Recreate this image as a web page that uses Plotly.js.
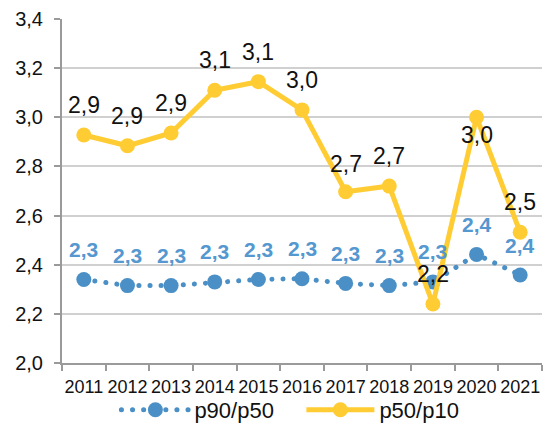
<!DOCTYPE html>
<html>
<head>
<meta charset="utf-8">
<script src="https://cdn.plot.ly/plotly-3.0.1.min.js"></script>
<style>html,body{margin:0;padding:0;background:#fff;}#chart{width:545px;height:427px;}</style>
</head>
<body>
<div id="chart"></div>
<div id="err" style="position:absolute;left:0;top:0;font:10px sans-serif;color:red"></div>
<script>
const years = ['2011','2012','2013','2014','2015','2016','2017','2018','2019','2020','2021'];
const p90p50 = [2.34, 2.315, 2.315, 2.33, 2.34, 2.343, 2.324, 2.315, 2.33, 2.442, 2.358];
const p50p10 = [2.928, 2.884, 2.936, 3.11, 3.145, 3.03, 2.697, 2.72, 2.24, 3.0, 2.532];
const seriesNames = ['p90/p50', 'p50/p10'];
// label offset (px) for p50/p10 labels; negative = below
const orangeShift = [30, 30, 30, 30, 30, 30, 28, 30, 30, -18, 30];

const blue = '#4a90c6';
const blueText = '#5597cf';
const gold = '#ffcc33';

function fmt(v){ return v.toFixed(1).replace('.', ','); }

try {
const traces = [
  {
    x: years, y: p90p50, name: seriesNames[0], type: 'scatter', mode: 'lines+markers',
    line: {color: blue, width: 5, dash: '5px,6px'},
    marker: {color: blue, size: 15}
  },
  {
    x: years, y: p50p10, name: seriesNames[1], type: 'scatter', mode: 'lines+markers',
    line: {color: gold, width: 5},
    marker: {color: gold, size: 15}
  }
];

const annotations = [];
years.forEach((yr, i) => {
  annotations.push({xref: 'x', yref: 'y', x: i, y: p90p50[i], text: '<b>' + fmt(p90p50[i]) + '</b>', showarrow: false,
    yshift: 30, font: {size: 21, color: blueText}});
  annotations.push({xref: 'x', yref: 'y', x: i, y: p50p10[i], text: fmt(p50p10[i]), showarrow: false,
    yshift: orangeShift[i], font: {size: 23, color: '#111'}});
});

const layout = {
  width: 545, height: 427,
  margin: {l: 62, r: 3, t: 19, b: 64},
  paper_bgcolor: '#fff', plot_bgcolor: '#fff',
  separators: ', ',
  font: {family: 'Liberation Sans, Arial, sans-serif', color: '#111'},
  showlegend: true,
  legend: {orientation: 'h', xref: 'container', x: 0.553, xanchor: 'center', yref: 'container', y: 0.04, yanchor: 'middle',
    bgcolor: 'rgba(0,0,0,0)', entrywidth: 102, entrywidthmode: 'pixels',
    font: {size: 22, color: '#111'}, itemwidth: 68, traceorder: 'normal'},
  xaxis: {
    type: 'category', range: [-0.5, 10.5], showgrid: false, zeroline: false,
    showline: true, linecolor: '#9a9a9a', linewidth: 2,
    ticks: 'outside', tickson: 'boundaries', ticklen: 6, tickcolor: '#9a9a9a', tickwidth: 2,
    tickfont: {size: 18, color: '#111'}, tickangle: 0, ticklabelstandoff: 6, fixedrange: true
  },
  yaxis: {
    range: [2.0, 3.4], dtick: 0.2, tick0: 2.0, tickformat: '.1f',
    showgrid: true, gridcolor: '#d0d0d0', gridwidth: 1.5, zeroline: false,
    showline: true, linecolor: '#9a9a9a', linewidth: 2,
    ticks: 'outside', ticklen: 6, tickcolor: '#9a9a9a', tickwidth: 2,
    tickfont: {size: 20, color: '#111'}, ticklabelstandoff: 7, fixedrange: true
  },
  annotations: annotations
};

const gd = document.getElementById('chart');
Plotly.newPlot(gd, traces, layout, {displayModeBar: false}).then(() => {
  const lines = gd.querySelectorAll('.scatterlayer .trace:first-child path.js-line, .legend .traces:first-child path.js-line');
  lines.forEach(p => { p.style.strokeLinecap = 'round'; p.style.strokeDasharray = '0.1px,11px'; });
}).catch(e => { document.getElementById('err').textContent = String(e); });
} catch (e) { document.getElementById('err').textContent = String(e); }
</script>
</body>
</html>
